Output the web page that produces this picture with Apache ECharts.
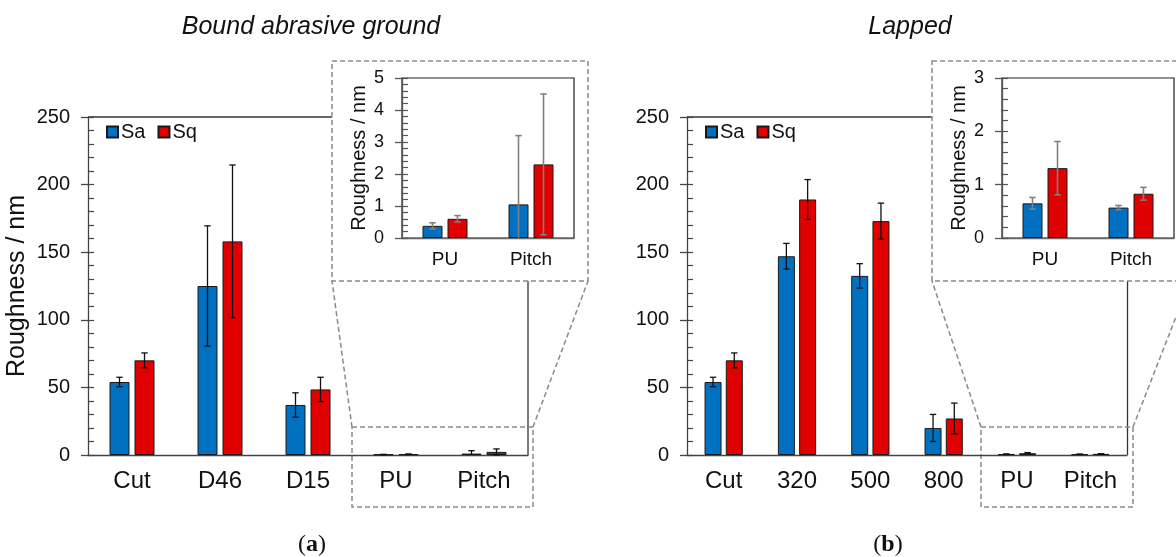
<!DOCTYPE html>
<html>
<head>
<meta charset="utf-8">
<script src="https://cdn.jsdelivr.net/npm/echarts@6/dist/echarts.min.js"></script>
<style>
html,body{margin:0;padding:0;background:#fff;}
#c{width:1176px;height:557px;}
</style>
</head>
<body>
<div id="c"></div>
<script>
// ---------- data ----------
const catsA = ['Cut', 'D46', 'D15', 'PU', 'Pitch'];
const saA = [54, 125, 37, 0.38, 1.05];
const saErrA = [3.5, 44.5, 9, 0.095, 2.15];
const sqA = [70, 158, 48.5, 0.6, 2.3];
const sqErrA = [5.5, 56.5, 9, 0.1, 2.2];

const catsB = ['Cut', '320', '500', '800', 'PU', 'Pitch'];
const saB = [54, 147, 132.5, 20, 0.65, 0.57];
const saErrB = [3.5, 9.5, 9, 10, 0.11, 0.04];
const sqB = [70, 189, 173, 27, 1.31, 0.83];
const sqErrB = [5.5, 14.7, 13.3, 11.4, 0.5, 0.12];

const mainTicks = { min: 0, max: 250, interval: 50 };
const insetTicksA = { min: 0, max: 5, interval: 1 };
const insetTicksB = { min: 0, max: 3, interval: 1 };

// ---------- style ----------
const FONT = '"Liberation Sans", Arial, sans-serif';
const BLUE = '#0070C0', RED = '#E00000';
const G = [
  { left: 88, top: 117, width: 440, height: 338 },
  { left: 402, top: 78, width: 172, height: 160 },
  { left: 687, top: 117, width: 440, height: 338 },
  { left: 1002, top: 78, width: 172, height: 160 }
];

function errRender(offset, color, lw, cap) {
  return function (params, api) {
    const i = api.value(0), v = api.value(1), e = api.value(2);
    let lo = v - e; const hi = v + e;
    const clip = lo < 0; if (clip) lo = 0;
    const pH = api.coord([i, hi]), pL = api.coord([i, lo]);
    const x = pH[0] + offset;
    const st = { stroke: color, lineWidth: lw };
    const ch = [
      { type: 'line', shape: { x1: x, y1: pH[1], x2: x, y2: pL[1] }, style: st },
      { type: 'line', shape: { x1: x - cap, y1: pH[1], x2: x + cap, y2: pH[1] }, style: st }
    ];
    if (!clip) ch.push({ type: 'line', shape: { x1: x - cap, y1: pL[1], x2: x + cap, y2: pL[1] }, style: st });
    return { type: 'group', children: ch };
  };
}

function xAxis(g, cats, inset) {
  return {
    type: 'category', gridIndex: g, data: cats, position: 'bottom',
    axisLine: { lineStyle: { color: inset ? '#666' : '#444', width: 1.3 } },
    axisTick: { inside: true, length: inset ? 5 : 6, alignWithLabel: false, lineStyle: { color: inset ? '#555' : '#333', width: 1.3 } },
    axisLabel: { fontFamily: FONT, fontSize: inset ? 19 : 24, color: '#111', margin: inset ? 12 : 14 },
    splitLine: { show: false }
  };
}
function yAxes(g, t, inset, name, nameGap) {
  const lc = inset ? '#555' : '#444';
  return [{
    type: 'value', gridIndex: g, position: 'left', offset: 0, min: t.min, max: t.max, interval: t.interval,
    name: name, nameLocation: 'middle', nameGap: nameGap,
    nameTextStyle: { fontFamily: FONT, fontSize: inset ? 20 : 25, color: '#111' },
    axisLine: { show: true, lineStyle: { color: lc, width: 1.3 } },
    axisTick: { show: true, inside: false, length: 7, lineStyle: { color: lc, width: 1.3 } },
    axisLabel: { fontFamily: FONT, fontSize: inset ? 18 : 20, color: '#111', margin: 18 },
    splitLine: { show: false }
  }, {
    type: 'value', gridIndex: g, position: 'left', offset: 0, min: t.min, max: t.max, interval: t.interval,
    axisLine: { show: false },
    axisTick: { show: true, inside: true, length: 6, lineStyle: { color: lc, width: 1.2 } },
    minorTick: { show: true, splitNumber: 5, length: 6, lineStyle: { color: lc, width: 1.2 } },
    axisLabel: { show: false },
    splitLine: { show: false }
  }];
}
function seriesFor(g, sa, saE, sq, sqE, bw, inset) {
  const off = bw * 1.25 / 2;
  const ec = inset ? '#808080' : '#111';
  const lw = inset ? 1.6 : 1.3;
  const cap = 3.2;
  const bs = (c) => ({ color: c, borderColor: '#1a1a1a', borderWidth: 1 });
  return [
    { name: 'Sa', type: 'bar', xAxisIndex: g, yAxisIndex: 2 * g, data: sa, barWidth: bw, barGap: '25%', itemStyle: bs(BLUE), z: 2 },
    { name: 'Sq', type: 'bar', xAxisIndex: g, yAxisIndex: 2 * g, data: sq, barWidth: bw, barGap: '25%', itemStyle: bs(RED), z: 2 },
    { type: 'custom', xAxisIndex: g, yAxisIndex: 2 * g, z: 4, renderItem: errRender(-off, ec, lw, cap),
      data: sa.map((v, i) => [i, v, saE[i]]), encode: { x: 0, y: 1 } },
    { type: 'custom', xAxisIndex: g, yAxisIndex: 2 * g, z: 4, renderItem: errRender(off, ec, lw, cap),
      data: sq.map((v, i) => [i, v, sqE[i]]), encode: { x: 0, y: 1 } }
  ];
}

const dash = { stroke: '#8a8a8a', lineWidth: 1.5, lineDash: [5, 3], fill: null };
const frame = { stroke: '#333', lineWidth: 1.3 };
function ln(x1, y1, x2, y2, st) { return { type: 'line', shape: { x1, y1, x2, y2 }, style: st, silent: true }; }
function rc(x, y, w, h, st) { return { type: 'rect', shape: { x, y, width: w, height: h }, style: st, silent: true }; }
function txt(x, y, s, font) {
  return { type: 'text', x, y, style: { text: s, font: font, fill: '#111', textAlign: 'center', textVerticalAlign: 'middle' } };
}
function label(x, y, letter) {
  return { type: 'text', x, y, style: {
    text: '{n|(}{b|' + letter + '}{n|)}', textAlign: 'center', textVerticalAlign: 'middle',
    rich: { n: { fontFamily: '"Liberation Serif", serif', fontSize: 24, fill: '#111' },
            b: { fontFamily: '"Liberation Serif", serif', fontSize: 24, fontWeight: 'bold', fill: '#111' } } } };
}

const legendBase = {
  data: ['Sa', 'Sq'], icon: 'rect', itemWidth: 11, itemHeight: 11, itemGap: 12, padding: 0,
  textStyle: { fontFamily: FONT, fontSize: 20, color: '#111', padding: [0, 0, 0, -2] }, selectedMode: false
};

const option = {
  animation: false,
  backgroundColor: '#fff',
  grid: [
    Object.assign({ show: false }, G[0]),
    Object.assign({ show: true, borderColor: '#222', borderWidth: 1.2, backgroundColor: '#fff' }, G[1]),
    Object.assign({ show: false }, G[2]),
    Object.assign({ show: true, borderColor: '#222', borderWidth: 1.2, backgroundColor: '#fff' }, G[3])
  ],
  legend: [
    Object.assign({ left: 106, top: 122 }, legendBase),
    Object.assign({ left: 705, top: 122 }, legendBase)
  ],
  xAxis: [
    xAxis(0, catsA, false),
    xAxis(1, catsA.slice(3), true),
    xAxis(2, catsB, false),
    xAxis(3, catsB.slice(4), true)
  ],
  yAxis: [].concat(
    yAxes(0, mainTicks, false, 'Roughness / nm', 58),
    yAxes(1, insetTicksA, true, 'Roughness / nm', 33),
    yAxes(2, mainTicks, false, '', 0),
    yAxes(3, insetTicksB, true, 'Roughness / nm', 33)
  ),
  series: [].concat(
    seriesFor(0, saA, saErrA, sqA, sqErrA, 20, false),
    seriesFor(1, saA.slice(3), saErrA.slice(3), sqA.slice(3), sqErrA.slice(3), 20, true),
    seriesFor(2, saB, saErrB, sqB, sqErrB, 17, false),
    seriesFor(3, saB.slice(4), saErrB.slice(4), sqB.slice(4), sqErrB.slice(4), 20, true)
  ),
  graphic: { elements: [
    // main frames (partly hidden by insets)
    ln(88, 117, 332, 117, frame), ln(528, 281, 528, 455, frame),
    ln(687, 117, 932, 117, frame), ln(1127.5, 281, 1127.5, 455, frame),
    // inset boxes
    rc(332, 61, 256, 220, dash), rc(932, 61, 258, 220, dash),
    // zoom boxes
    rc(352, 427, 181, 80, dash), rc(981, 427, 152, 80, dash),
    // connectors
    ln(352, 427, 332, 281, dash), ln(533, 427, 588, 281, dash),
    ln(981, 427, 932, 281, dash), ln(1133, 427, 1190, 281, dash),
    // titles
    txt(311, 27, 'Bound abrasive ground', 'italic 25px "Liberation Sans", Arial, sans-serif'),
    txt(910, 27, 'Lapped', 'italic 25px "Liberation Sans", Arial, sans-serif'),
    label(312, 545, 'a'), label(888, 545, 'b')
  ] }
};

const chart = echarts.init(document.getElementById('c'), null, { renderer: 'canvas' });
chart.setOption(option);
</script>
</body>
</html>
